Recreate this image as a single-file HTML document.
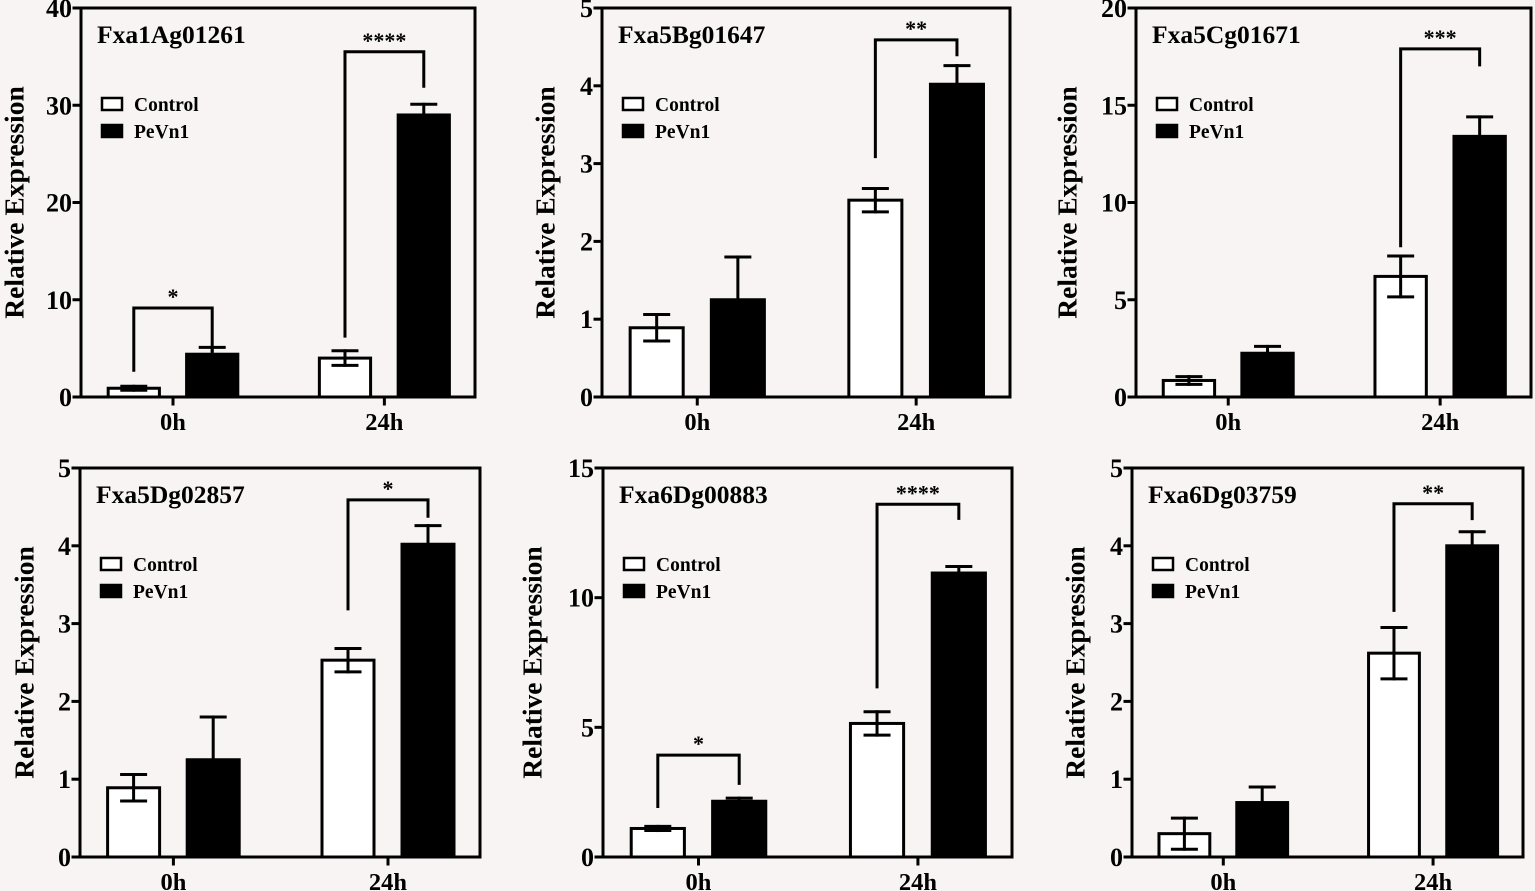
<!DOCTYPE html>
<html><head><meta charset="utf-8">
<style>
html,body{margin:0;padding:0;background:#f7f4f3;}
svg{display:block;font-family:"Liberation Serif",serif;font-weight:bold;}
</style></head>
<body>
<svg id="fig" width="1535" height="891" viewBox="0 0 1535 891" xmlns="http://www.w3.org/2000/svg">
<rect width="1535" height="891" fill="#f7f4f3"/>
</svg>
<script>
// ---- data ----
const categories = ["0h", "24h"];
const genes = ["Fxa1Ag01261","Fxa5Bg01647","Fxa5Cg01671","Fxa5Dg02857","Fxa6Dg00883","Fxa6Dg03759"];
const yMax = [40, 5, 20, 5, 15, 5];
const yStep = [10, 1, 5, 1, 5, 1];
const controlValues = [[0.9,4.0],[0.89,2.53],[0.85,6.2],[0.89,2.53],[1.1,5.15],[0.3,2.62]];
const controlErr = [[0.2,0.75],[0.17,0.15],[0.2,1.05],[0.17,0.15],[0.08,0.45],[0.2,0.33]];
const pevnValues = [[4.4,29.0],[1.25,4.02],[2.25,13.4],[1.25,4.02],[2.15,10.95],[0.7,4.0]];
const pevnErr = [[0.7,1.1],[0.55,0.24],[0.35,1.0],[0.55,0.24],[0.12,0.25],[0.2,0.18]];
// significance: [groupIndex, label, bracketValue, leftLegEnd, rightLegEnd]
const sigMarks = [
  [[0,"*",9.15,2.6,4.6],[1,"****",35.5,6.1,31.8]],
  [[1,"**",4.59,3.07,4.38]],
  [[1,"***",17.9,7.7,17.0]],
  [[1,"*",4.59,3.17,4.36]],
  [[0,"*",3.93,1.89,2.78],[1,"****",13.6,6.5,13.0]],
  [[1,"**",4.54,3.15,4.33]]
];
// ---- layout ----
const panels = [
  {l:81,r:475,t:8,b:397,tx:67},{l:602,r:1010,t:8,b:397,tx:57},{l:1136,r:1531,t:8,b:397,tx:69},
  {l:80,r:480,t:468,b:857,tx:56},{l:603,r:1012,t:468,b:857,tx:71},{l:1132,r:1523,t:468,b:857,tx:57}
];
const NS="http://www.w3.org/2000/svg";
const svg=document.getElementById('fig');
function mk(tag,attrs,parent){const e=document.createElementNS(NS,tag);for(const k in attrs)e.setAttribute(k,attrs[k]);(parent||svg).appendChild(e);return e;}
function line(g,x1,y1,x2,y2,w){return mk('line',{x1,y1,x2,y2,stroke:'#000','stroke-width':w||3,'stroke-linecap':'square'},g);}

panels.forEach((p,i)=>{
  const g=mk('g',{});
  
  
  const W=p.r-p.l;
  const y=v=>p.b-(v/yMax[i])*(p.b-p.t);
  const bw=0.13*W;
  const offs=[[0.069,0.268],[0.605,0.805]];
  const fr=mk('rect',{x:p.l,y:p.t,width:W,height:p.b-p.t,fill:'none',stroke:'#000','stroke-width':3},g);
  
  
  for(let v=0;v<=yMax[i]+1e-9;v+=yStep[i]){
    line(g,p.l-7,y(v),p.l,y(v),3);
    const t=mk('text',{x:p.l-9,y:y(v)+9,'text-anchor':'end','font-size':26},g);
    
    
    t.textContent=String(v);
  }
  const cy=(p.t+p.b)/2, cx=p.l-p.tx;
  const yt=mk('text',{x:cx,y:cy,'text-anchor':'middle','dominant-baseline':'central','font-size':27.5,transform:`rotate(-90 ${cx} ${cy})`},g);
  
  
  yt.textContent='Relative Expression';
  const gt=mk('text',{x:p.l+16,y:p.t+35,'font-size':25.5},g);
  
  
  gt.textContent=genes[i];
  [['Control','#fff'],['PeVn1','#000']].forEach((L,k)=>{
    const r=mk('rect',{x:p.l+21,y:p.t+90+k*27,width:20,height:12,fill:L[1],stroke:'#000','stroke-width':2.5},g);
    
    
    const t=mk('text',{x:p.l+53,y:p.t+103+k*27,'font-size':19.5},g);
    
    
    t.textContent=L[0];
  });
  categories.forEach((c,ci)=>{
    const x0=p.l+offs[ci][0]*W, x1=p.l+offs[ci][1]*W;
    const cv=controlValues[i][ci], ce=controlErr[i][ci];
    const pv=pevnValues[i][ci], pe=pevnErr[i][ci];
    const cxm=x0+bw/2;
    line(g,cxm,y(cv+ce),cxm,y(Math.max(0,cv-ce)),3);
    line(g,cxm-12,y(cv+ce),cxm+12,y(cv+ce),3);
    line(g,cxm-12,y(Math.max(0,cv-ce)),cxm+12,y(Math.max(0,cv-ce)),3);
    const rb=mk('rect',{x:x0,y:y(cv),width:bw,height:p.b-y(cv),fill:'#fff',stroke:'#000','stroke-width':3},g);
    
    
    line(g,cxm,y(cv),cxm,y(Math.max(0,cv-ce)),3);
    line(g,cxm-12,y(Math.max(0,cv-ce)),cxm+12,y(Math.max(0,cv-ce)),3);
    const pxm=x1+bw/2;
    line(g,pxm,y(pv+pe),pxm,y(pv),3);
    line(g,pxm-12,y(pv+pe),pxm+12,y(pv+pe),3);
    const pb=mk('rect',{x:x1,y:y(pv),width:bw,height:p.b-y(pv),fill:'#000',stroke:'#000','stroke-width':3},g);
    
    
    const xt=(x0+x1+bw)/2;
    line(g,xt,p.b,xt,p.b+7,3);
    const xl=mk('text',{x:xt,y:p.b+33,'text-anchor':'middle','font-size':24.5},g);
    
    
    xl.textContent=c;
  });
  sigMarks[i].forEach(s=>{
    const ci=s[0];
    const xa=p.l+offs[ci][0]*W+bw/2, xb=p.l+offs[ci][1]*W+bw/2;
    const by=y(s[2]);
    const pl=mk('polyline',{points:`${xa},${y(s[3])} ${xa},${by} ${xb},${by} ${xb},${y(s[4])}`,fill:'none',stroke:'#000','stroke-width':3},g);
    
    
    const st=mk('text',{x:(xa+xb)/2,y:by-4,'text-anchor':'middle','font-size':22},g);
    
    
    st.textContent=s[1];
  });
});
</script>
</body></html>
